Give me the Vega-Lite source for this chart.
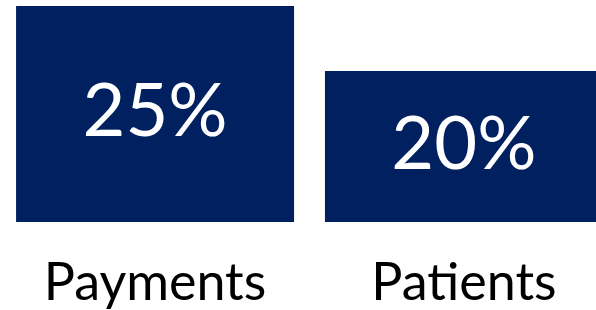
{
  "$schema": "https://vega.github.io/schema/vega-lite/v6.json",
  "width": 619,
  "height": 216,
  "autosize": "none",
  "padding": {"left": 0, "top": 6, "right": 0, "bottom": 88},
  "background": "white",
  "config": {"view": {"stroke": null}},
  "data": {
    "values": [
      {"category": "Payments", "value": 25, "label": "25%"},
      {"category": "Patients", "value": 20, "label": "20%"}
    ]
  },
  "encoding": {
    "x": {
      "field": "category",
      "type": "nominal",
      "sort": null,
      "scale": {"paddingInner": 0.1, "paddingOuter": 0.052},
      "axis": {
        "title": null,
        "ticks": false,
        "domain": false,
        "labelAngle": 0,
        "labelFont": "Lato",
        "labelFontSize": 52,
        "labelLimit": 0,
        "labelColor": "#000000",
        "labelPadding": 36
      }
    }
  },
  "layer": [
    {
      "mark": {"type": "bar", "color": "#002060"},
      "encoding": {
        "y": {
          "field": "value",
          "type": "quantitative",
          "scale": {"domain": [8.4, 25], "zero": false},
          "axis": null
        },
        "y2": {"datum": 8.4}
      }
    },
    {
      "mark": {"type": "text", "color": "white", "font": "Lato", "fontSize": 74, "baseline": "middle", "align": "center"},
      "encoding": {
        "y": {
          "field": "value",
          "type": "quantitative",
          "scale": {"domain": [8.4, 41.6], "zero": false},
          "axis": null
        },
        "text": {"field": "label"}
      }
    }
  ],
  "resolve": {"scale": {"y": "independent"}}
}
